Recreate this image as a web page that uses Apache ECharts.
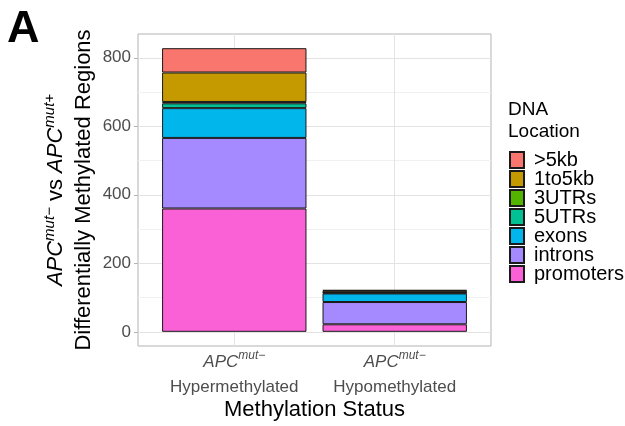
<!DOCTYPE html>
<html>
<head>
<meta charset="utf-8">
<script src="https://cdn.jsdelivr.net/npm/echarts@6/dist/echarts.min.js"></script>
<style>
html,body{margin:0;padding:0;background:#fff;}
#chart{width:625px;height:426px;}
</style>
</head>
<body>
<div id="chart"></div>
<script>
// ---- data ----
const categories = ['Hypermethylated', 'Hypomethylated'];
const locations = ['promoters', 'introns', 'exons', '5UTRs', '3UTRs', '1to5kb', '>5kb'];
const promoters = [360, 22];
const introns = [206, 65];
const exons = [87, 25];
const utr5 = [14, 2];
const utr3 = [4, 1];
const kb1to5 = [86, 5];
const kb5 = [71, 2];
const yMajorTicks = [0, 200, 400, 600, 800];
const yMinorTicks = [100, 300, 500, 700];
const legendOrder = ['>5kb', '1to5kb', '3UTRs', '5UTRs', 'exons', 'introns', 'promoters'];

const seriesValues = [promoters, introns, exons, utr5, utr3, kb1to5, kb5];
const colors = ['#FB61D7', '#A58AFF', '#00B6EB', '#00C094', '#53B400', '#C49A00', '#F8766D'];
const catPos = categories.map((c, i) => i + 1);
const yMax = Math.max(...categories.map((c, i) => seriesValues.reduce((s, arr) => s + arr[i], 0)));
const pad = 0.05 * yMax;

// ---- layout (ggplot-like discrete expansion of 0.6 units each side) ----
const W = 625, H = 426;
const panelLeft = 138, panelRight = 491, panelTop = 34, panelBottom = 346;
const unit = (panelRight - panelLeft) / (categories.length - 1 + 1.2);
const dataLeft = panelLeft + 0.1 * unit;
const dataWidth = unit * categories.length;

const FONT = '"Liberation Sans", Arial, Helvetica, sans-serif';

const series = locations.map((name, k) => ({
  name: name,
  type: 'bar',
  stack: 'total',
  xAxisIndex: 0,
  yAxisIndex: 0,
  barWidth: 0.9 * unit,
  z: 3,
  itemStyle: { color: colors[k], borderColor: '#1a1a1a', borderWidth: 1 },
  emphasis: { disabled: true },
  data: seriesValues[k]
}));

series.push({
  name: 'gridlines',
  type: 'line',
  xAxisIndex: 1,
  yAxisIndex: 1,
  data: [],
  silent: true,
  z: 1,
  markLine: {
    silent: true,
    symbol: 'none',
    z: 1,
    label: { show: false },
    animation: false,
    data: [
      ...yMinorTicks.map(v => ({ yAxis: v, lineStyle: { color: '#F0F0F0', width: 1, type: 'solid' } })),
      ...yMajorTicks.map(v => ({ yAxis: v, lineStyle: { color: '#E3E3E3', width: 1, type: 'solid' } })),
      ...catPos.map(v => ({ xAxis: v, lineStyle: { color: '#E3E3E3', width: 1, type: 'solid' } }))
    ]
  }
});

const chart = echarts.init(document.getElementById('chart'), null, { renderer: 'canvas' });
chart.setOption({
  animation: false,
  backgroundColor: '#ffffff',
  textStyle: { fontFamily: FONT },
  title: [
    { text: 'A', left: 2, top: 1, textStyle: { fontFamily: FONT, fontSize: 45, fontWeight: 'bold', color: '#000', lineHeight: 48 } },
    { text: 'DNA\nLocation', left: 503, top: 94, textStyle: { fontFamily: FONT, fontSize: 19, fontWeight: 'normal', color: '#000', lineHeight: 22 } }
  ],
  grid: [
    { left: dataLeft, width: dataWidth, top: panelTop, bottom: H - panelBottom, show: false },
    { left: panelLeft, right: W - panelRight, top: panelTop, bottom: H - panelBottom,
      show: true, borderColor: '#B3B3B3', borderWidth: 1, backgroundColor: 'transparent' }
  ],
  legend: {
    data: legendOrder,
    orient: 'vertical',
    left: 509, top: 150,
    padding: 0,
    icon: 'rect',
    itemWidth: 14, itemHeight: 16, itemGap: -1,
    selectedMode: false,
    textStyle: { fontFamily: FONT, fontSize: 20, lineHeight: 18, color: '#000', padding: [0, 0, 0, 5] }
  },
  xAxis: [
    {
      type: 'category',
      gridIndex: 0,
      data: categories,
      splitLine: { show: false },
      axisLine: { show: false },
      axisTick: { show: true, alignWithLabel: true, length: 4, lineStyle: { color: '#B3B3B3' } },
      axisLabel: {
        margin: 4,
        formatter: function (c) {
          return '{i|APC}{s|mut−}\n{t|' + c + '}';
        },
        rich: {
          i: { fontFamily: FONT, fontStyle: 'italic', fontSize: 17, color: '#4D4D4D', lineHeight: 24, align: 'center' },
          s: { fontFamily: FONT, fontStyle: 'italic', fontSize: 12, color: '#4D4D4D', lineHeight: 24, verticalAlign: 'top', align: 'center' },
          t: { fontFamily: FONT, fontSize: 17, color: '#4D4D4D', lineHeight: 26, align: 'center' }
        }
      },
      name: 'Methylation Status',
      nameLocation: 'middle',
      nameGap: 53,
      nameMoveOverlap: false,
      nameTextStyle: { fontFamily: FONT, fontSize: 22, color: '#000' }
    },
    {
      type: 'value',
      gridIndex: 1,
      min: catPos[0] - 0.6,
      max: catPos[catPos.length - 1] + 0.6,
      show: false,
      splitLine: { show: false }
    }
  ],
  yAxis: [
    {
      type: 'value',
      gridIndex: 0,
      min: -pad,
      max: yMax + pad,
      show: false,
      splitLine: { show: false }
    },
    {
      type: 'value',
      gridIndex: 1,
      min: -pad,
      max: yMax + pad,
      splitLine: { show: false },
      axisLine: { show: false },
      axisTick: { show: true, customValues: yMajorTicks, length: 4, lineStyle: { color: '#B3B3B3' } },
      axisLabel: { customValues: yMajorTicks, margin: 7, fontFamily: FONT, fontSize: 17, color: '#4D4D4D' },
      name: '{i|APC}{s|mut−}{n| vs }{i|APC}{s|mut+}\n{t|Differentially Methylated Regions}',
      nameLocation: 'middle',
      nameRotate: 90,
      nameGap: 40,
      nameMoveOverlap: false,
      nameTextStyle: {
        rich: {
          i: { fontFamily: FONT, fontStyle: 'italic', fontSize: 22, color: '#000', lineHeight: 28, align: 'center' },
          s: { fontFamily: FONT, fontStyle: 'italic', fontSize: 15, color: '#000', lineHeight: 28, verticalAlign: 'top', align: 'center' },
          n: { fontFamily: FONT, fontSize: 22, color: '#000', lineHeight: 28, align: 'center' },
          t: { fontFamily: FONT, fontSize: 22, color: '#000', lineHeight: 28, align: 'center' }
        }
      }
    }
  ],
  series: series
});
</script>
</body>
</html>
